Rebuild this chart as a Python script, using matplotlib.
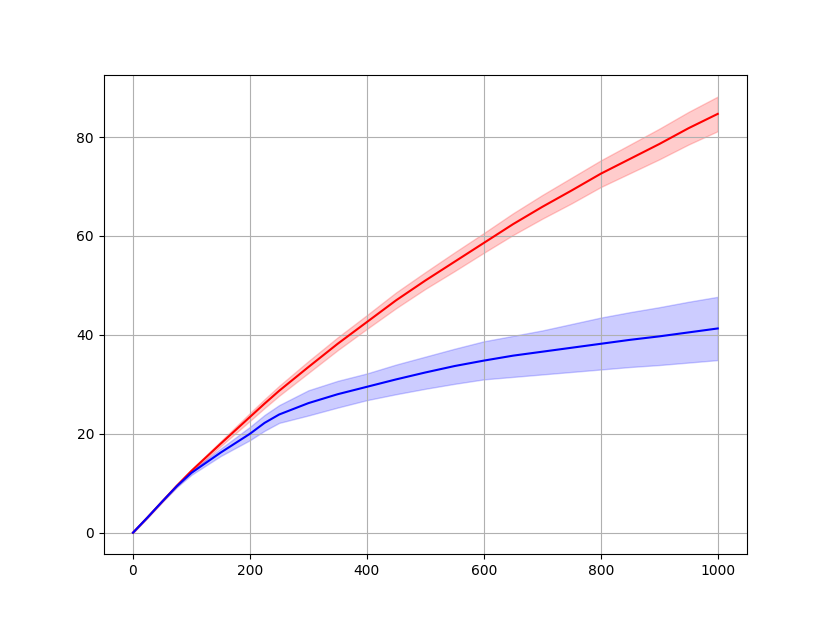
import numpy as np
import matplotlib
matplotlib.use('Agg')
import matplotlib.pyplot as plt

steps = [0, 25, 50, 75, 100, 150, 200, 225, 250, 300, 350, 400, 450, 500,
         550, 600, 650, 700, 750, 800, 850, 900, 950, 1000]

red_mean = [0, 3.1, 6.3, 9.5, 12.5, 18.0, 23.4, 26.1, 28.7, 33.5, 38.2, 42.6,
            47.0, 51.0, 54.8, 58.6, 62.4, 65.9, 69.2, 72.6, 75.6, 78.6,
            81.8, 84.7]
red_low = [0, 3.05, 6.2, 9.3, 12.2, 17.5, 22.6, 25.2, 27.7, 32.3, 36.9, 41.2,
           45.4, 49.3, 52.9, 56.6, 60.2, 63.5, 66.6, 69.9, 72.7, 75.5,
           78.5, 81.2]
red_high = [0, 3.15, 6.4, 9.7, 12.8, 18.5, 24.2, 27.0, 29.7, 34.7, 39.5, 44.0,
            48.6, 52.7, 56.7, 60.6, 64.6, 68.3, 71.8, 75.3, 78.5, 81.7,
            85.1, 88.2]

blue_mean = [0, 3.1, 6.3, 9.4, 12.1, 16.2, 20.0, 22.2, 23.9, 26.2, 28.0, 29.5,
             31.0, 32.4, 33.7, 34.8, 35.8, 36.6, 37.4, 38.2, 39.0, 39.7,
             40.5, 41.3]
blue_low = [0, 3.05, 6.2, 9.2, 11.7, 15.5, 18.7, 20.6, 22.2, 23.7, 25.3, 26.8,
            28.0, 29.1, 30.1, 31.0, 31.5, 32.0, 32.5, 33.0, 33.5, 33.9,
            34.4, 34.9]
blue_high = [0, 3.15, 6.4, 9.6, 12.5, 17.0, 21.4, 23.8, 25.8, 28.8, 30.7, 32.2,
             34.0, 35.6, 37.2, 38.7, 39.8, 40.9, 42.2, 43.5, 44.6, 45.6,
             46.7, 47.7]

fig = plt.figure(figsize=(8.3, 6.23), dpi=100)
ax = fig.add_subplot(111)

ax.plot(steps, red_mean, color='r')
ax.fill_between(steps, red_low, red_high, color='r', alpha=0.2)
ax.plot(steps, blue_mean, color='b')
ax.fill_between(steps, blue_low, blue_high, color='b', alpha=0.2)

ax.grid(True)
fig.savefig('out.png', dpi=100)
